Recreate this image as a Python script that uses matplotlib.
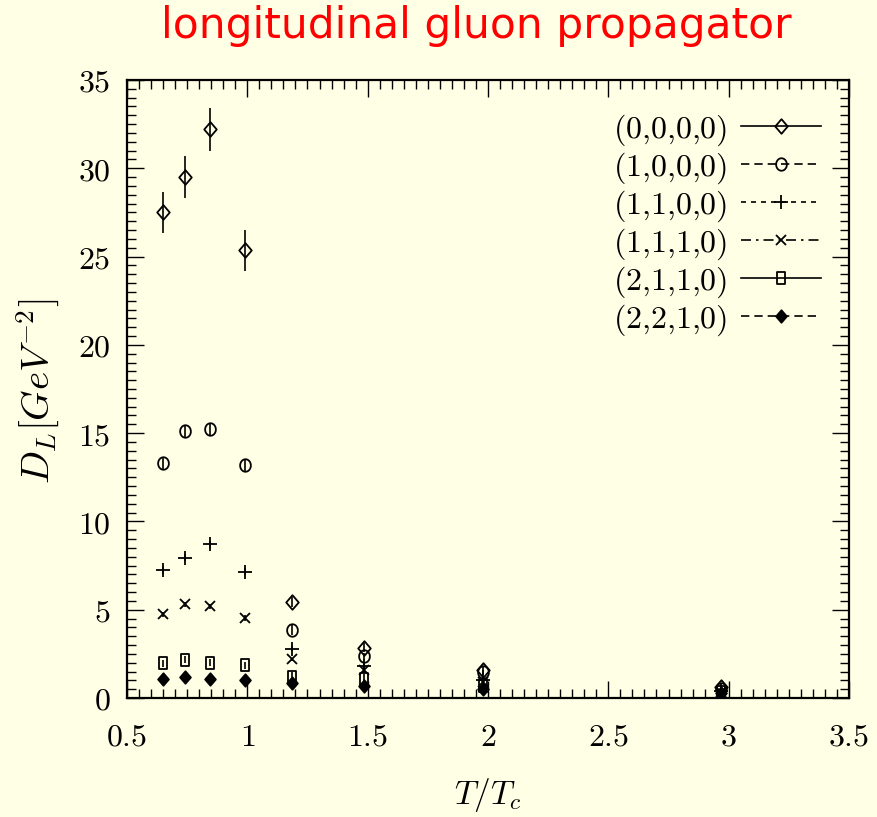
import matplotlib
matplotlib.use("Agg")
import matplotlib.pyplot as plt
import numpy as np
from matplotlib.path import Path
from matplotlib.ticker import MultipleLocator, FuncFormatter

plt.rcParams['mathtext.fontset'] = 'cm'

# ---------------- data ----------------
T = [0.65, 0.74, 0.845, 0.99, 1.185, 1.485, 1.98, 2.97]

labels = ['(0,0,0,0)', '(1,0,0,0)', '(1,1,0,0)', '(1,1,1,0)', '(2,1,1,0)', '(2,2,1,0)']

d0000 = [27.5, 29.5, 32.2, 25.35, 5.44, 2.85, 1.6, 0.6]
e0000 = [1.17, 1.17, 1.23, 1.17, 0.3, 0.25, 0.2, 0.1]
d1000 = [13.3, 15.1, 15.25, 13.2, 3.87, 2.36, 1.46, 0.5]
e1000 = [0.35, 0.35, 0.35, 0.35, 0.3, 0.2, 0.15, 0.1]
d1100 = [7.23, 7.95, 8.7, 7.16, 2.8, 1.81, 1.0, 0.4]
e1100 = [0.2, 0.2, 0.2, 0.2, 0.15, 0.1, 0.1, 0.05]
d1110 = [4.74, 5.3, 5.19, 4.53, 2.19, 1.57, 0.92, 0.35]
e1110 = [0.15, 0.15, 0.15, 0.15, 0.1, 0.1, 0.05, 0.05]
d2110 = [1.96, 2.17, 2.0, 1.85, 1.19, 1.06, 0.68, 0.32]
e2110 = [0.2, 0.2, 0.2, 0.2, 0.3, 0.3, 0.1, 0.05]
d2210 = [1.1, 1.19, 1.08, 1.04, 0.83, 0.66, 0.49, 0.28]
e2210 = [0.05, 0.05, 0.05, 0.05, 0.05, 0.05, 0.05, 0.05]

series = [d0000, d1000, d1100, d1110, d2110, d2210]
errors = [e0000, e1000, e1100, e1110, e2110, e2210]

xticks = [0.5, 1, 1.5, 2, 2.5, 3, 3.5]
yticks = [0, 5, 10, 15, 20, 25, 30, 35]

# ---------------- markers ----------------
diamond = Path([(0, 0.5), (0.43, 0), (0, -0.5), (-0.43, 0), (0, 0.5)],
               [Path.MOVETO, Path.LINETO, Path.LINETO, Path.LINETO, Path.CLOSEPOLY])
rect = Path([(-0.36, -0.5), (0.36, -0.5), (0.36, 0.5), (-0.36, 0.5), (-0.36, -0.5)],
            [Path.MOVETO, Path.LINETO, Path.LINETO, Path.LINETO, Path.CLOSEPOLY])
th = np.linspace(0, 2 * np.pi, 41)
ell = Path(np.column_stack([0.43 * np.cos(th), 0.5 * np.sin(th)]))

styles = [
    dict(marker=diamond, ms=10.5, mfc='none', ls='-'),
    dict(marker=ell, ms=9, mfc='none', ls=(0, (5, 3))),
    dict(marker='+', ms=9.5, mfc='none', ls=(0, (3, 3))),
    dict(marker='x', ms=6.5, mfc='none', ls=(0, (6, 3, 1.5, 3))),
    dict(marker=rect, ms=8.5, mfc='none', ls='-'),
    dict(marker=diamond, ms=9, mfc='black', ls=(0, (5, 3))),
]

bg = '#ffffe6'
fig = plt.figure(figsize=(8.77, 8.17), dpi=100, facecolor=bg)
ax = fig.add_axes([127 / 877, 1 - 698 / 817, (849 - 127) / 877, (698 - 80) / 817])
ax.set_facecolor(bg)

for ys, es, st, lab in zip(series, errors, styles, labels):
    ax.errorbar(T, ys, yerr=es, fmt='none', ecolor='black', elinewidth=1.2, capsize=0)
    ax.plot(T, ys, marker=st['marker'], ms=st['ms'], mfc=st['mfc'], mec='black',
            mew=1.3, ls='none', color='black')
    # legend proxy
    ax.plot([], [], marker=st['marker'], ms=st['ms'], mfc=st['mfc'], mec='black',
            mew=1.3, ls=st['ls'], lw=1.2, color='black',
            label='$' + lab.replace(',', '{,}') + '$')

ax.set_xlim(0.5, 3.5)
ax.set_ylim(0, 35)
ax.set_xticks(xticks)
ax.set_yticks(yticks)
ax.xaxis.set_minor_locator(MultipleLocator(0.05))
ax.yaxis.set_minor_locator(MultipleLocator(0.5))
fmt = FuncFormatter(lambda v, p: '$%g$' % v)
ax.xaxis.set_major_formatter(fmt)
ax.yaxis.set_major_formatter(fmt)
ax.tick_params(which='both', direction='in', top=True, right=True, colors='black')
ax.tick_params(which='major', length=12.5, width=1.0, labelsize=23)
ax.tick_params(which='minor', length=6.5, width=1.0)
ax.tick_params(axis='x', which='major', pad=17)
ax.tick_params(axis='y', which='major', pad=12)
for s in ax.spines.values():
    s.set_linewidth(1.6)

fig.text(38 / 877, 1 - 391 / 817, r'$D_L[GeV^{-2}]$', rotation=90, fontsize=28,
         ha='center', va='center')
fig.text(488 / 877, 1 - 795 / 817, r'$T/T_c$', fontsize=24, ha='center', va='center')

fig.text(476 / 877, 1 - 38 / 817, 'longitudinal gluon propagator', color='red',
         fontsize=30.5, family='DejaVu Sans',
         ha='center', va='baseline')

leg = ax.legend(loc='upper right', bbox_to_anchor=(821 / 877, 1 - 112 / 817),
                bbox_transform=fig.transFigure, frameon=False, markerfirst=False,
                fontsize=23, handlelength=2.5, handletextpad=0.45, labelspacing=0.08,
                borderpad=0, borderaxespad=0)

fig.savefig('out.png', dpi=100, facecolor=bg)
